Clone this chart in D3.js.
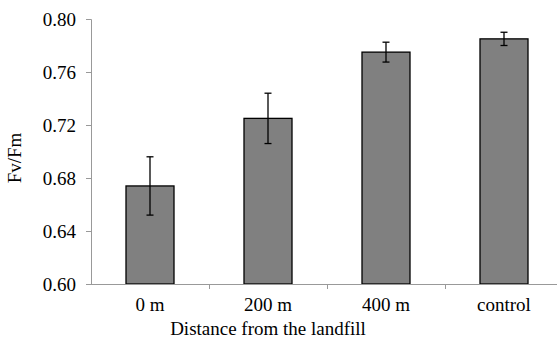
<!DOCTYPE html>
<html>
<head>
<meta charset="utf-8">
<script src="https://cdn.jsdelivr.net/npm/d3@7"></script>
<style>
  body { margin: 0; background: #fff; }
</style>
</head>
<body>
<svg id="chart"></svg>
<script>
const categories = ["0 m", "200 m", "400 m", "control"];
const means = [0.674, 0.725, 0.775, 0.785];
const errors = [0.022, 0.019, 0.0075, 0.005];
const yTicks = [0.60, 0.64, 0.68, 0.72, 0.76, 0.80];

const width = 557, height = 343;
const svg = d3.select("#chart").attr("width", width).attr("height", height);

const plotLeft = 91, plotRight = 563, plotTop = 19, plotBottom = 284;
const font = "'Liberation Serif', 'Times New Roman', serif";
const fontSize = "19px";

const x = d3.scaleBand().domain(categories).range([plotLeft, plotRight]).paddingInner(0).paddingOuter(0);
const y = d3.scaleLinear().domain([0.6, 0.8]).range([plotBottom, plotTop]);
const barW = 48;
const axisColor = "#999";

// y axis
const yAxis = svg.append("g")
  .attr("transform", `translate(${plotLeft},0)`)
  .call(d3.axisLeft(y).tickValues(yTicks).tickFormat(d3.format(".2f")).tickSize(5).tickPadding(10));
yAxis.select(".domain").attr("stroke", axisColor);
yAxis.selectAll(".tick line").attr("stroke", axisColor);
yAxis.selectAll("text").style("font-size", fontSize).style("font-family", font).attr("fill", "#000");

// bars
svg.append("g").selectAll("rect")
  .data(categories)
  .join("rect")
  .attr("x", (d) => x(d) + x.bandwidth() / 2 - barW / 2)
  .attr("y", (d, i) => y(means[i]))
  .attr("width", barW)
  .attr("height", (d, i) => plotBottom - y(means[i]))
  .attr("fill", "#808080")
  .attr("stroke", "#000")
  .attr("stroke-width", 1.3);

// x axis line + boundary ticks
svg.append("line")
  .attr("x1", plotLeft - 5).attr("x2", plotRight)
  .attr("y1", plotBottom + 0.5).attr("y2", plotBottom + 0.5)
  .attr("stroke", axisColor);
categories.slice(1).forEach((c) => {
  svg.append("line")
    .attr("x1", Math.round(x(c)) + 0.5).attr("x2", Math.round(x(c)) + 0.5)
    .attr("y1", plotBottom).attr("y2", plotBottom + 5)
    .attr("stroke", axisColor);
});

// error bars
const eb = svg.append("g").attr("stroke", "#000").attr("stroke-width", 1.3);
categories.forEach((c, i) => {
  const cx = x(c) + x.bandwidth() / 2;
  const y1 = y(means[i] + errors[i]);
  const y2 = y(means[i] - errors[i]);
  eb.append("line").attr("x1", cx).attr("x2", cx).attr("y1", y1).attr("y2", y2);
  eb.append("line").attr("x1", cx - 3.5).attr("x2", cx + 3.5).attr("y1", y1).attr("y2", y1);
  eb.append("line").attr("x1", cx - 3.5).attr("x2", cx + 3.5).attr("y1", y2).attr("y2", y2);
});

// category labels
svg.append("g").selectAll("text")
  .data(categories)
  .join("text")
  .attr("x", (d) => x(d) + x.bandwidth() / 2)
  .attr("y", 311)
  .attr("text-anchor", "middle")
  .style("font-size", fontSize).style("font-family", font)
  .text((d) => d);

// axis titles
svg.append("text")
  .attr("x", 268).attr("y", 335)
  .attr("text-anchor", "middle")
  .style("font-size", fontSize).style("font-family", font)
  .text("Distance from the landfill");

svg.append("text")
  .attr("transform", "translate(21,158) rotate(-90)")
  .attr("text-anchor", "middle")
  .style("font-size", fontSize).style("font-family", font)
  .text("Fv/Fm");
</script>
</body>
</html>
